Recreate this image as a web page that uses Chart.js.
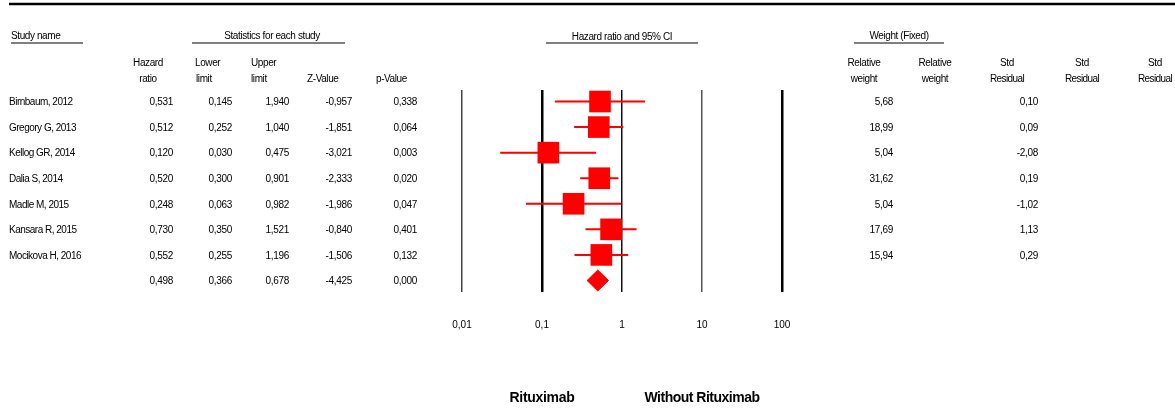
<!DOCTYPE html>
<html>
<head>
<meta charset="utf-8">
<script src="https://cdn.jsdelivr.net/npm/chart.js@4/dist/chart.umd.min.js"></script>
<style>
html,body{margin:0;padding:0;background:#fff;}
#wrap{width:1175px;height:408px;position:relative;}
</style>
</head>
<body>
<div id="wrap"><canvas id="c" width="1175" height="408"></canvas></div>
<script>
// ---------- data ----------
const studies = ['Birnbaum, 2012','Gregory G, 2013','Kellog GR, 2014','Dalia S, 2014','Madle M, 2015','Kansara R, 2015','Mocikova H, 2016'];
const hazardRatio = [0.531, 0.512, 0.120, 0.520, 0.248, 0.730, 0.552];
const lowerLimit  = [0.145, 0.252, 0.030, 0.300, 0.063, 0.350, 0.255];
const upperLimit  = [1.940, 1.040, 0.475, 0.901, 0.982, 1.521, 1.196];
const zValue      = [-0.957, -1.851, -3.021, -2.333, -1.986, -0.840, -1.506];
const pValue      = [0.338, 0.064, 0.003, 0.020, 0.047, 0.401, 0.132];
const relWeight   = [5.68, 18.99, 5.04, 31.62, 5.04, 17.69, 15.94];
const stdResidual = [0.10, 0.09, -2.08, 0.19, -1.02, 1.13, 0.29];
const pooledHR = 0.498, pooledLower = 0.366, pooledUpper = 0.678, pooledZ = -4.425, pooledP = 0.000;
const xTickValues = [0.01, 0.1, 1, 10, 100];
const xTickLabels = ['0,01', '0,1', '1', '10', '100'];
const favoursLeft = 'Rituximab';
const favoursRight = 'Without Rituximab';

// ---------- styles ----------
const RED = '#ff0000';
const FONT = '"Liberation Sans", Arial, Helvetica, sans-serif';
const gridWidths = [1.5, 2.5, 1.5, 1.5, 2.5];
const gridColors = ['#444', '#000', '#111', '#555', '#000'];
const DIAMOND_HALF = 0.41;

const fmt = (v, d) => v.toFixed(d).replace('.', ',');

// CI segments (break with null between)
const ciData = [];
studies.forEach((s, i) => {
  ciData.push({x: lowerLimit[i], y: i});
  ciData.push({x: upperLimit[i], y: i});
  ciData.push({x: hazardRatio[i], y: null});
});
const pointData = studies.map((s, i) => ({x: hazardRatio[i], y: i}));
const sumRow = studies.length;
const diamondData = [
  {x: pooledLower, y: sumRow},
  {x: pooledHR, y: sumRow - DIAMOND_HALF},
  {x: pooledUpper, y: sumRow},
  {x: pooledHR, y: sumRow + DIAMOND_HALF},
  {x: pooledLower, y: sumRow}
];

function txt(ctx, s, x, y, align, size, weight, ls) {
  ctx.font = (weight || 'normal') + ' ' + (size || 10) + 'px ' + FONT;
  ctx.letterSpacing = (ls === undefined ? -0.4 : ls) + 'px';
  ctx.textAlign = align;
  ctx.textBaseline = 'middle';
  ctx.fillStyle = '#000';
  ctx.fillText(s, x, y);
}
function hline(ctx, x1, x2, y, w) {
  ctx.beginPath();
  ctx.lineWidth = w || 1;
  ctx.strokeStyle = '#000';
  ctx.moveTo(x1, y); ctx.lineTo(x2, y);
  ctx.stroke();
}

const tablePlugin = {
  id: 'table',
  afterDraw(chart) {
    const ctx = chart.ctx;
    const ys = chart.scales.y, xs = chart.scales.x;
    ctx.save();
    // top rule
    hline(ctx, 9, 1175, 4, 2.5);
    // group headers
    txt(ctx, 'Study name', 11, 36, 'left');
    hline(ctx, 11, 83, 43, 1);
    txt(ctx, 'Statistics for each study', 272, 36, 'center');
    hline(ctx, 192, 345, 43, 1);
    txt(ctx, 'Hazard ratio and 95% CI', 622, 37, 'center');
    hline(ctx, 546, 698, 43, 1);
    txt(ctx, 'Weight (Fixed)', 899, 36, 'center');
    hline(ctx, 854, 944, 43, 1);
    // column headers
    txt(ctx, 'Hazard', 148, 63, 'center');
    txt(ctx, 'ratio', 148, 79, 'center');
    txt(ctx, 'Lower', 195, 63, 'left');
    txt(ctx, 'limit', 196, 79, 'left');
    txt(ctx, 'Upper', 251, 63, 'left');
    txt(ctx, 'limit', 251, 79, 'left');
    txt(ctx, 'Z-Value', 307, 79, 'left');
    txt(ctx, 'p-Value', 376, 79, 'left');
    txt(ctx, 'Relative', 864, 63, 'center');
    txt(ctx, 'weight', 864, 79, 'center');
    txt(ctx, 'Relative', 935, 63, 'center');
    txt(ctx, 'weight', 935, 79, 'center');
    [1007, 1082, 1155].forEach(cx => {
      txt(ctx, 'Std', cx, 63, 'center');
      txt(ctx, 'Residual', cx, 79, 'center', 10, 'normal', -0.6);
    });
    // rows
    studies.forEach((s, i) => {
      const y = ys.getPixelForValue(i) + 1;
      txt(ctx, s, 9, y, 'left', 10, 'normal', -0.5);
      txt(ctx, fmt(hazardRatio[i], 3), 173, y, 'right', 10, 'normal', -0.3);
      txt(ctx, fmt(lowerLimit[i], 3), 232, y, 'right', 10, 'normal', -0.3);
      txt(ctx, fmt(upperLimit[i], 3), 289, y, 'right', 10, 'normal', -0.3);
      txt(ctx, fmt(zValue[i], 3), 352, y, 'right', 10, 'normal', -0.3);
      txt(ctx, fmt(pValue[i], 3), 417, y, 'right', 10, 'normal', -0.3);
      txt(ctx, fmt(relWeight[i], 2), 893, y, 'right', 10, 'normal', -0.3);
      txt(ctx, fmt(stdResidual[i], 2), 1038, y, 'right', 10, 'normal', -0.3);
    });
    const yS = ys.getPixelForValue(sumRow) + 1;
    txt(ctx, fmt(pooledHR, 3), 173, yS, 'right', 10, 'normal', -0.3);
    txt(ctx, fmt(pooledLower, 3), 232, yS, 'right', 10, 'normal', -0.3);
    txt(ctx, fmt(pooledUpper, 3), 289, yS, 'right', 10, 'normal', -0.3);
    txt(ctx, fmt(pooledZ, 3), 352, yS, 'right', 10, 'normal', -0.3);
    txt(ctx, fmt(pooledP, 3), 417, yS, 'right', 10, 'normal', -0.3);
    // favours labels
    txt(ctx, favoursLeft, xs.getPixelForValue(0.1), 398, 'center', 14, 'bold', -0.3);
    txt(ctx, favoursRight, xs.getPixelForValue(10), 398, 'center', 14, 'bold', -0.5);
    ctx.restore();
  }
};

new Chart(document.getElementById('c'), {
  type: 'scatter',
  data: {
    datasets: [
      {
        label: 'CI',
        data: ciData,
        showLine: true,
        spanGaps: false,
        borderColor: RED,
        borderWidth: 2,
        pointRadius: 0,
        pointHoverRadius: 0,
        order: 3
      },
      {
        label: 'HR',
        data: pointData,
        pointStyle: 'rect',
        pointRadius: 15.3,
        pointHoverRadius: 15.3,
        pointBackgroundColor: RED,
        pointBorderWidth: 0,
        backgroundColor: RED,
        borderColor: RED,
        order: 2
      },
      {
        label: 'Pooled',
        data: diamondData,
        showLine: true,
        fill: 'shape',
        tension: 0,
        backgroundColor: RED,
        borderColor: RED,
        borderWidth: 1,
        pointRadius: 0,
        order: 1
      }
    ]
  },
  options: {
    responsive: false,
    devicePixelRatio: 1,
    animation: false,
    layout: { padding: { left: 462, right: 393, top: 90, bottom: 0 } },
    plugins: { legend: { display: false }, tooltip: { enabled: false } },
    scales: {
      x: {
        type: 'logarithmic',
        position: 'bottom',
        min: 0.01,
        max: 100,
        afterBuildTicks(scale) { scale.ticks = xTickValues.map(v => ({ value: v })); },
        afterFit(scale) { scale.height = 116; },
        grid: {
          drawTicks: false,
          lineWidth: c => gridWidths[c.index] ?? 0,
          color: c => gridColors[c.index] ?? '#000'
        },
        border: { display: false },
        ticks: {
          padding: 27,
          color: '#000',
          font: { family: FONT, size: 10 },
          maxRotation: 0,
          autoSkip: false,
          callback: (v, i) => xTickLabels[i]
        }
      },
      y: {
        type: 'linear',
        display: false,
        reverse: true,
        min: -0.45,
        max: 7.45
      }
    }
  },
  plugins: [tablePlugin]
});
</script>
</body>
</html>
